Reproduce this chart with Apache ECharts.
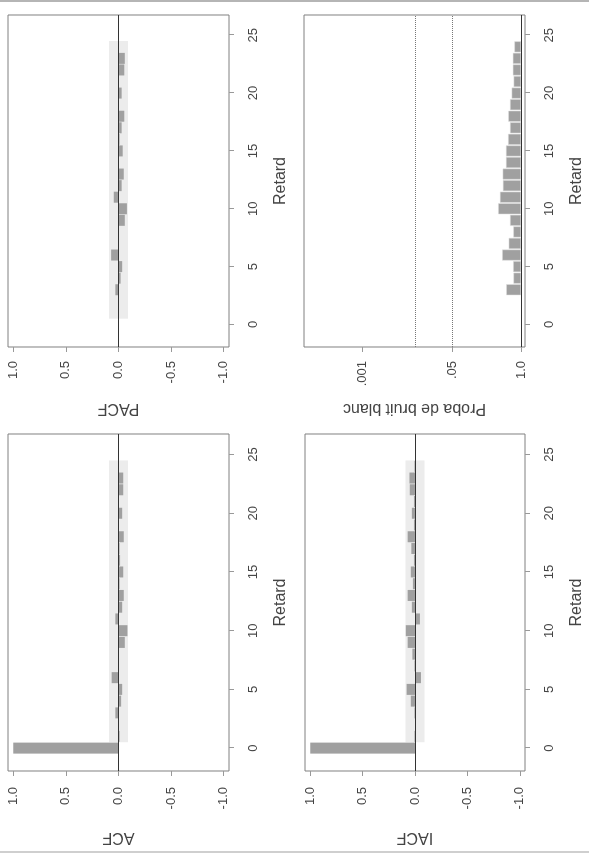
<!DOCTYPE html>
<html>
<head>
<meta charset="utf-8">
<title>ACF PACF IACF</title>
<script src="https://cdn.jsdelivr.net/npm/echarts@6/dist/echarts.min.js"></script>
<style>
  body { margin: 0; background: #fff; }
  #wrap { position: relative; width: 589px; height: 854px; overflow: hidden; }
  /* the chart is drawn upright and then turned a quarter turn left, like the scan */
  #main { position: absolute; left: 0; top: 0; width: 854px; height: 589px;
          transform-origin: 0 0; transform: translate(0, 854px) rotate(-90deg); }
</style>
</head>
<body>
<div id="wrap"><div id="main"></div></div>
<script type="text/javascript">
// ticks
var lagTicks = [0, 5, 10, 15, 20, 25];
var corrTicks = [-1, -0.5, 0, 0.5, 1];
var probTicks = [1, 0.05, 0.001];
var probTickLabels = ['1.0', '.05', '.001'];
var probLevels = [0.05, 0.01];

// autocorrelations (lag 0..24)
var acfLags = [0, 1, 2, 3, 4, 5, 6, 7, 8, 9, 10, 11, 12, 13, 14, 15, 16, 17, 18, 19, 20, 21, 22, 23, 24];
var acf = [1.0, -0.01, 0.005, 0.03, -0.025, -0.035, 0.065, -0.005, 0.005, -0.06, -0.085, 0.03,
           -0.035, -0.05, -0.01, -0.045, -0.015, -0.01, -0.05, 0.005, -0.035, 0.005, -0.045, -0.045, -0.005];

// partial autocorrelations (lag 1..24)
var pacfLags = [1, 2, 3, 4, 5, 6, 7, 8, 9, 10, 11, 12, 13, 14, 15, 16, 17, 18, 19, 20, 21, 22, 23, 24];
var pacf = [-0.005, 0.005, 0.03, -0.02, -0.035, 0.07, -0.005, 0.0, -0.06, -0.08, 0.045, -0.03,
            -0.05, -0.005, -0.04, -0.01, -0.03, -0.055, -0.005, -0.03, -0.005, -0.055, -0.06, -0.005];

// inverse autocorrelations (lag 0..24)
var iacfLags = [0, 1, 2, 3, 4, 5, 6, 7, 8, 9, 10, 11, 12, 13, 14, 15, 16, 17, 18, 19, 20, 21, 22, 23, 24];
var iacf = [1.0, 0.005, -0.005, 0.005, 0.04, 0.08, -0.057, 0.005, 0.025, 0.07, 0.088, -0.047,
            0.03, 0.07, 0.02, 0.04, 0.01, 0.035, 0.07, 0.01, 0.03, 0.01, 0.05, 0.053, 0.005];

// white noise test p-values (lag 3..24)
var probLags = [3, 4, 5, 6, 7, 8, 9, 10, 11, 12, 13, 14, 15, 16, 17, 18, 19, 20, 21, 22, 23, 24];
var probVals = [0.525, 0.72, 0.71, 0.44, 0.585, 0.715, 0.62, 0.37, 0.40, 0.455, 0.45, 0.52,
                0.52, 0.57, 0.62, 0.575, 0.62, 0.665, 0.725, 0.70, 0.70, 0.75];

// confidence band
var bandLags = [0.5, 24.5];
var bandHalf = 0.09;

var font = "'Liberation Sans', Arial, sans-serif";
var txt = '#444';

function pairs(xs, ys) {
  return xs.map(function (x, i) { return [x, ys[i]]; });
}
function nlog(p) { return -Math.log10(p); }

var grids = [
  { left: 83, top: 8, width: 337, height: 221 },   // ACF
  { left: 507, top: 8, width: 332, height: 221 },  // PACF
  { left: 83, top: 305, width: 337, height: 220 }, // IACF
  { left: 507, top: 304, width: 332, height: 221 } // Proba
].map(function (g) {
  g.show = true; g.borderColor = '#808080'; g.borderWidth = 1;
  return g;
});

var xAxes = [0, 1, 2, 3].map(function (i) {
  return {
    type: 'value', gridIndex: i, min: -1.95, max: 26.75,
    axisLine: { show: false, onZero: false },
    splitLine: { show: false },
    axisTick: { show: true, customValues: lagTicks, length: 5, lineStyle: { color: '#999' } },
    axisLabel: { customValues: lagTicks, margin: 18, fontSize: 13, color: txt, fontFamily: font },
    name: 'Retard', nameLocation: 'middle', nameGap: 44,
    nameTextStyle: { fontSize: 16, color: txt, fontFamily: font }
  };
});

function corrAxis(i, name, gap, margin) {
  return {
    type: 'value', gridIndex: i, min: -1.05, max: 1.05,
    axisLine: { show: false, onZero: false },
    splitLine: { show: false },
    axisTick: { show: true, customValues: corrTicks, length: 5, lineStyle: { color: '#999' } },
    axisLabel: {
      customValues: corrTicks, margin: margin, fontSize: 13, color: txt, fontFamily: font,
      formatter: function (v) { return v.toFixed(1); }
    },
    name: name, nameLocation: 'middle', nameGap: gap, nameRotate: 90,
    nameTextStyle: { fontSize: 16, color: txt, fontFamily: font }
  };
}

var yAxes = [
  corrAxis(0, 'ACF', 58, 16),
  corrAxis(1, 'PACF', 53, 14),
  corrAxis(2, 'IACF', 58, 16),
  {
    type: 'value', gridIndex: 3, min: -0.075, max: 4.1,
    axisLine: { show: false, onZero: false },
    splitLine: { show: false },
    axisTick: { show: true, customValues: probTicks.map(nlog), length: 5, lineStyle: { color: '#999' } },
    axisLabel: {
      customValues: probTicks.map(nlog), margin: 14, fontSize: 13, color: txt, fontFamily: font,
      formatter: function (v) {
        for (var k = 0; k < probTicks.length; k++) {
          if (Math.abs(nlog(probTicks[k]) - v) < 1e-6) return probTickLabels[k];
        }
        return '';
      }
    },
    name: 'Proba de bruit blanc', nameLocation: 'middle', nameGap: 53, nameRotate: 90,
    nameTextStyle: { fontSize: 16, color: txt, fontFamily: font }
  }
];

var barStyle = { color: '#a0a0a0' };
var zeroLine = {
  silent: true, symbol: 'none', label: { show: false },
  lineStyle: { color: '#333', width: 1, type: 'solid' },
  data: [{ yAxis: 0 }]
};
var band = {
  silent: true,
  itemStyle: { color: '#ececec' },
  data: [[{ xAxis: bandLags[0], yAxis: -bandHalf }, { xAxis: bandLags[1], yAxis: bandHalf }]]
};

function corrSeries(i, xs, ys) {
  return {
    type: 'bar', xAxisIndex: i, yAxisIndex: i, barWidth: 11,
    data: pairs(xs, ys), itemStyle: barStyle,
    markLine: zeroLine, markArea: band
  };
}

var option = {
  animation: false,
  backgroundColor: '#fff',
  grid: grids,
  xAxis: xAxes,
  yAxis: yAxes,
  graphic: [
    { type: 'line', shape: { x1: 853, y1: 0, x2: 853, y2: 589 }, style: { stroke: '#b5b5b5', lineWidth: 2 } },
    { type: 'line', shape: { x1: 2, y1: 0, x2: 2, y2: 589 }, style: { stroke: '#cfcfcf', lineWidth: 2 } }
  ],
  series: [
    corrSeries(0, acfLags, acf),
    corrSeries(1, pacfLags, pacf),
    corrSeries(2, iacfLags, iacf),
    {
      type: 'bar', xAxisIndex: 3, yAxisIndex: 3, barWidth: 11,
      data: pairs(probLags, probVals.map(nlog)),
      itemStyle: { color: '#a0a0a0', borderColor: '#e0e0e0', borderWidth: 0.5 },
      markLine: {
        silent: true, symbol: 'none', label: { show: false },
        data: [
          { yAxis: 0, lineStyle: { color: '#333', width: 1, type: 'solid' } },
          { yAxis: nlog(probLevels[0]), lineStyle: { color: '#777', width: 1, type: 'dotted' } },
          { yAxis: nlog(probLevels[1]), lineStyle: { color: '#777', width: 1, type: 'dotted' } }
        ]
      }
    }
  ]
};

var myChart = echarts.init(document.getElementById('main'));
myChart.setOption(option);
</script>
</body>
</html>
